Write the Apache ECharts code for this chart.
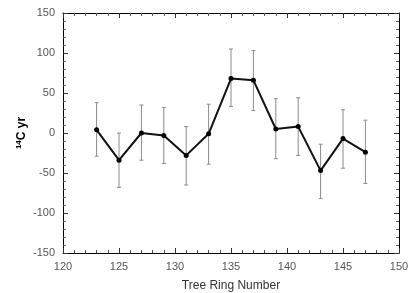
<!DOCTYPE html>
<html><head><meta charset="utf-8">
<script src="https://cdn.jsdelivr.net/npm/echarts@6/dist/echarts.min.js"></script>
<style>html,body{margin:0;padding:0;background:#fff}#c{width:409px;height:293px}</style>
</head><body><div id="c"></div>
<script>
var rings = [123,125,127,129,131,133,135,137,139,141,143,145,147];
var values = [4,-34,0,-3,-28,-1,68,66,5,8,-47,-7,-24];
var errLow = [-29,-68,-34,-38,-65,-39,33,28,-32,-28,-82,-44,-63];
var errHigh = [38,0,35,32,8,36,105,103,43,44,-14,29,16];
var xTicks = [120,125,130,135,140,145,150];
var yTicks = [-150,-100,-50,0,50,100,150];

var font = 'Liberation Sans';
function axisCommon(showLabel){
  return {
    axisLine:{show:true,onZero:false,lineStyle:{color:'#000',width:1}},
    axisTick:{show:true,inside:true,length:5,lineStyle:{color:'#333'}},
    minorTick:{show:true,splitNumber:5,length:3,lineStyle:{color:'#555'}},
    splitLine:{show:false},
    axisLabel:{show:showLabel,color:'#555',fontSize:11,fontFamily:font}
  };
}
var xMain = Object.assign({type:'value',min:xTicks[0],max:xTicks[xTicks.length-1],interval:5,position:'bottom',
  name:'Tree Ring Number',nameLocation:'middle',nameGap:27,nameMoveOverlap:false,
  nameTextStyle:{color:'#333',fontSize:12,fontFamily:font}}, axisCommon(true));
xMain.axisLabel.margin = 8;
var xTop = Object.assign({type:'value',min:120,max:150,interval:5,position:'top'}, axisCommon(false));
var yMain = Object.assign({type:'value',min:yTicks[0],max:yTicks[yTicks.length-1],interval:50,position:'left',
  name:'{s|14}{b|C yr}',nameLocation:'middle',nameGap:34,nameRotate:90,nameMoveOverlap:false,
  nameTextStyle:{rich:{s:{fontSize:8,fontWeight:'bold',color:'#000',fontFamily:font,verticalAlign:'top',lineHeight:14,padding:[0,0,6,0]},
                        b:{fontSize:12,fontWeight:'bold',color:'#000',fontFamily:font,lineHeight:14}}}}, axisCommon(true));
yMain.axisLabel.margin = 8;
var yRight = Object.assign({type:'value',min:-150,max:150,interval:50,position:'right'}, axisCommon(false));

var errData = rings.map(function(r,i){return [r, errLow[i], errHigh[i]];});
var lineData = rings.map(function(r,i){return [r, values[i]];});

var chart = echarts.init(document.getElementById('c'));
chart.setOption({
  animation:false,
  backgroundColor:'#fff',
  grid:{left:63,right:10,top:13,bottom:40,containLabel:false,outerBoundsMode:'none'},
  xAxis:[xMain,xTop],
  yAxis:[yMain,yRight],
  series:[
    {type:'custom',xAxisIndex:0,yAxisIndex:0,data:errData,
     renderItem:function(params,api){
       var x = api.value(0);
       var lo = api.coord([x, api.value(1)]);
       var hi = api.coord([x, api.value(2)]);
       var w = 2;
       var st = {stroke:'#8a8a8a',lineWidth:1};
       return {type:'group',children:[
         {type:'line',shape:{x1:lo[0],y1:lo[1],x2:hi[0],y2:hi[1]},style:st},
         {type:'line',shape:{x1:lo[0]-w,y1:lo[1],x2:lo[0]+w,y2:lo[1]},style:st},
         {type:'line',shape:{x1:hi[0]-w,y1:hi[1],x2:hi[0]+w,y2:hi[1]},style:st}
       ]};
     },z:1},
    {type:'line',xAxisIndex:0,yAxisIndex:0,data:lineData,symbol:'circle',symbolSize:5,
     lineStyle:{color:'#111',width:2},itemStyle:{color:'#000'},z:3}
  ]
});
</script></body></html>
